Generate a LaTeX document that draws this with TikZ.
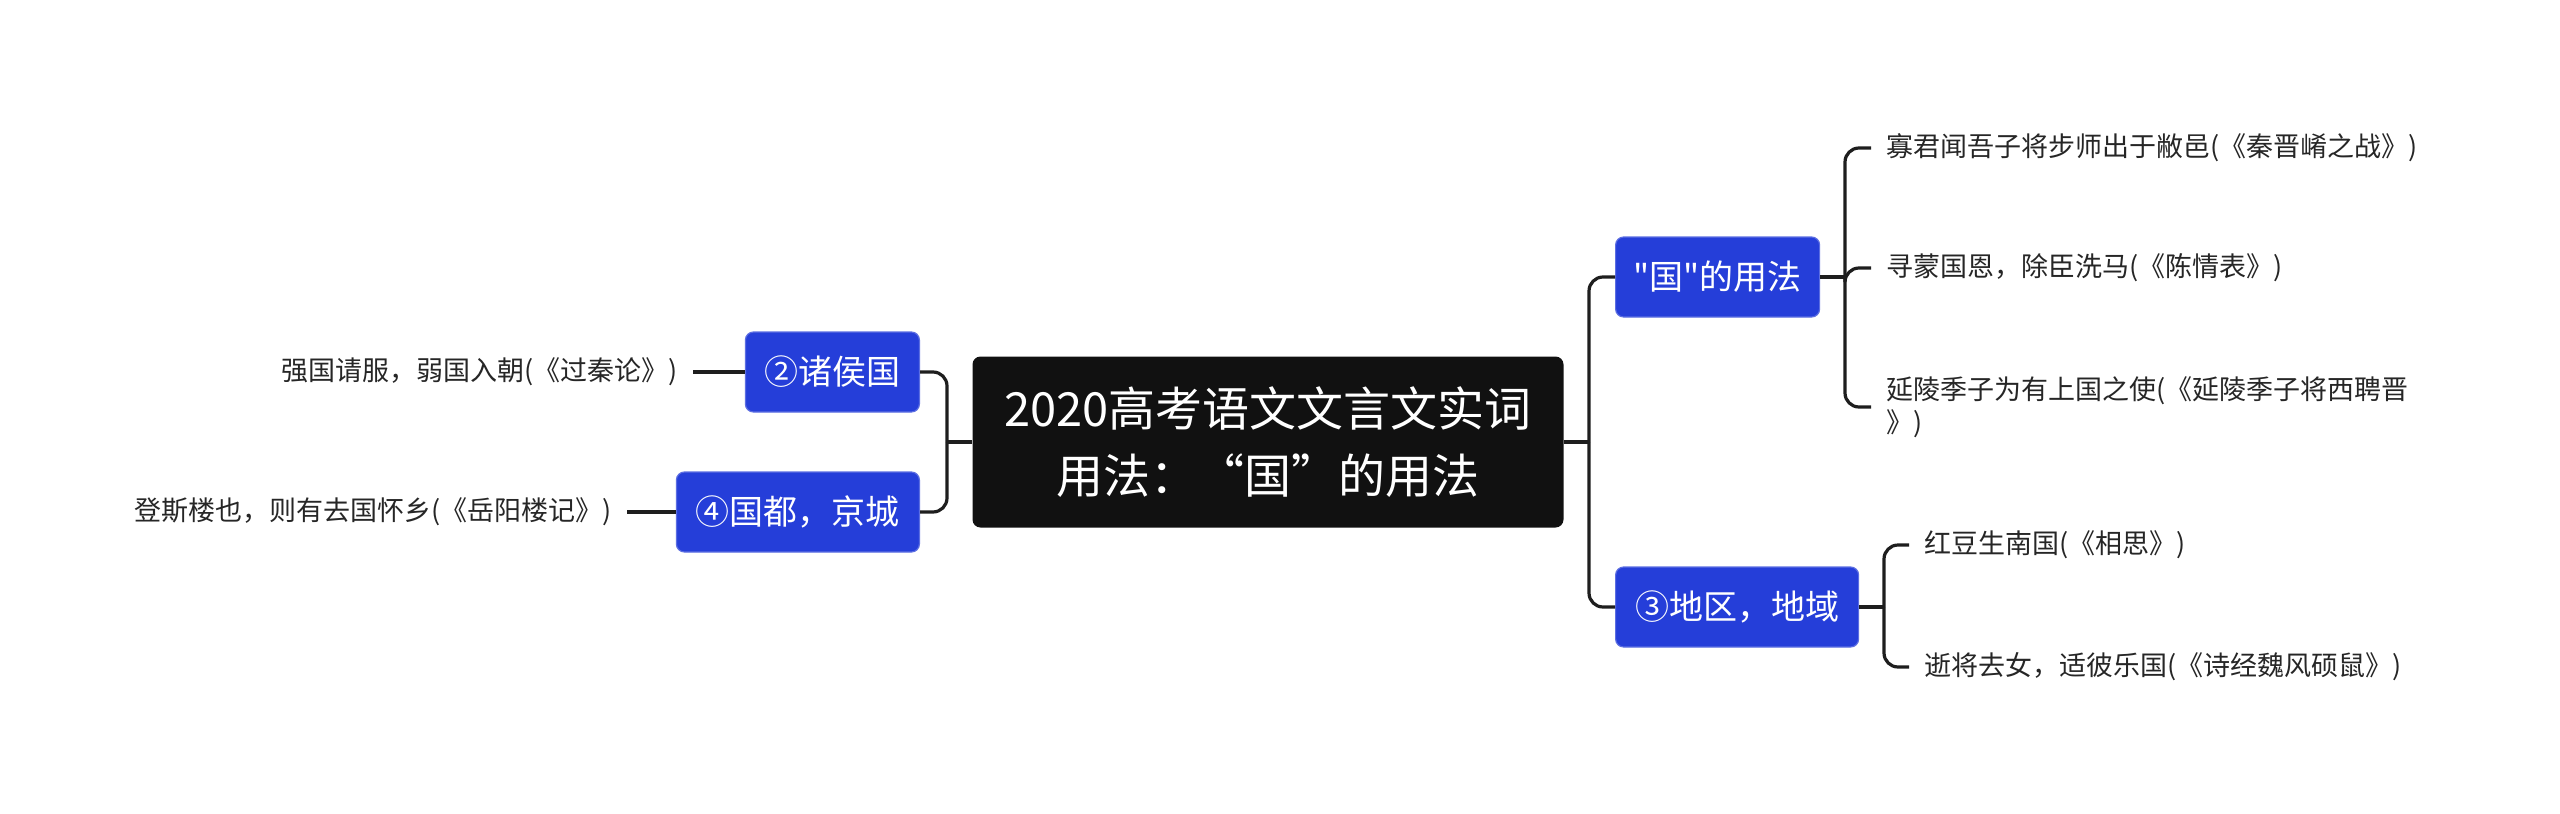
\documentclass[tikz,border=0pt]{standalone}
\usepackage{fontspec}
\setmainfont{Noto Sans CJK SC}[Ligatures=TeXOff]
\definecolor{topicblue}{RGB}{37,62,217}
\definecolor{rootblack}{RGB}{17,17,17}
\definecolor{linedark}{RGB}{30,30,30}

\begin{document}
\begin{tikzpicture}[x=0.5pt, y=-0.5pt,
  root/.style={fill=rootblack, text=white, rounded corners=4pt, minimum width=295.5pt, minimum height=85.5pt, align=center, font=\fontsize{23.5}{33.5}\selectfont},
  topic/.style={fill=topicblue, draw=topicblue!75!white, line width=0.6pt, text=white, rounded corners=4pt, minimum height=40pt, inner xsep=2pt, font=\fontsize{17}{20}\selectfont},
  leaf/.style={inner xsep=7.5pt, inner ysep=3pt, text=black!85, align=left, font=\fontsize{13.5}{16.5}\selectfont},
  link/.style={draw=linedark, line width=1.6pt},
  elbow/.style={link, rounded corners=7pt}]
\useasboundingbox (0,0) rectangle (2560,814);

\node[root] (root) at (1268,442) {2020高考语文文言文实词\\用法：“国”的用法};

\node[topic, anchor=west, minimum width=102pt] (guo) at (1615,277) {"国"的用法};
\node[topic, anchor=west, minimum width=121.5pt] (diqu) at (1615,607) {③地区，地域};
\node[topic, anchor=east, minimum width=87pt] (zhuhou) at (920,372) {②诸侯国};
\node[topic, anchor=east, minimum width=121.5pt] (guodu) at (920,512) {④国都，京城};

\node[leaf, anchor=west] (qinjin) at (1871,148) {寡君闻吾子将步师出于敝邑(《秦晋崤之战》)};
\node[leaf, anchor=west] (chenqing) at (1871,268) {寻蒙国恩，除臣洗马(《陈情表》)};
\node[leaf, anchor=west] (yanling) at (1871,407) {延陵季子为有上国之使(《延陵季子将西聘晋\\》)};
\node[leaf, anchor=west] (xiangsi) at (1909,545) {红豆生南国(《相思》)};
\node[leaf, anchor=west] (shuoshu) at (1909,667) {逝将去女，适彼乐国(《诗经魏风硕鼠》)};
\node[leaf, anchor=east] (guoqin) at (693,372) {强国请服，弱国入朝(《过秦论》)};
\node[leaf, anchor=east] (yueyang) at (627,512) {登斯楼也，则有去国怀乡(《岳阳楼记》)};

% right side
\draw[link] (root.east) -- (1589,442);
\draw[elbow] (1589,442) |- (guo.west);
\draw[elbow] (1589,442) |- (diqu.west);
\draw[link] (guo.east) -- (1845,277);
\draw[elbow] (1845,277) |- (qinjin.west);
\draw[elbow] (1845,277) |- (chenqing.west);
\draw[elbow] (1845,277) |- (yanling.west);
\draw[link] (diqu.east) -- (1884,607);
\draw[elbow] (1884,607) |- (xiangsi.west);
\draw[elbow] (1884,607) |- (shuoshu.west);

% left side
\draw[link] (root.west) -- (947,442);
\draw[elbow] (947,442) |- (zhuhou.east);
\draw[elbow] (947,442) |- (guodu.east);
\draw[link] (zhuhou.west) -- (guoqin.east);
\draw[link] (guodu.west) -- (yueyang.east);
\end{tikzpicture}
\end{document}
